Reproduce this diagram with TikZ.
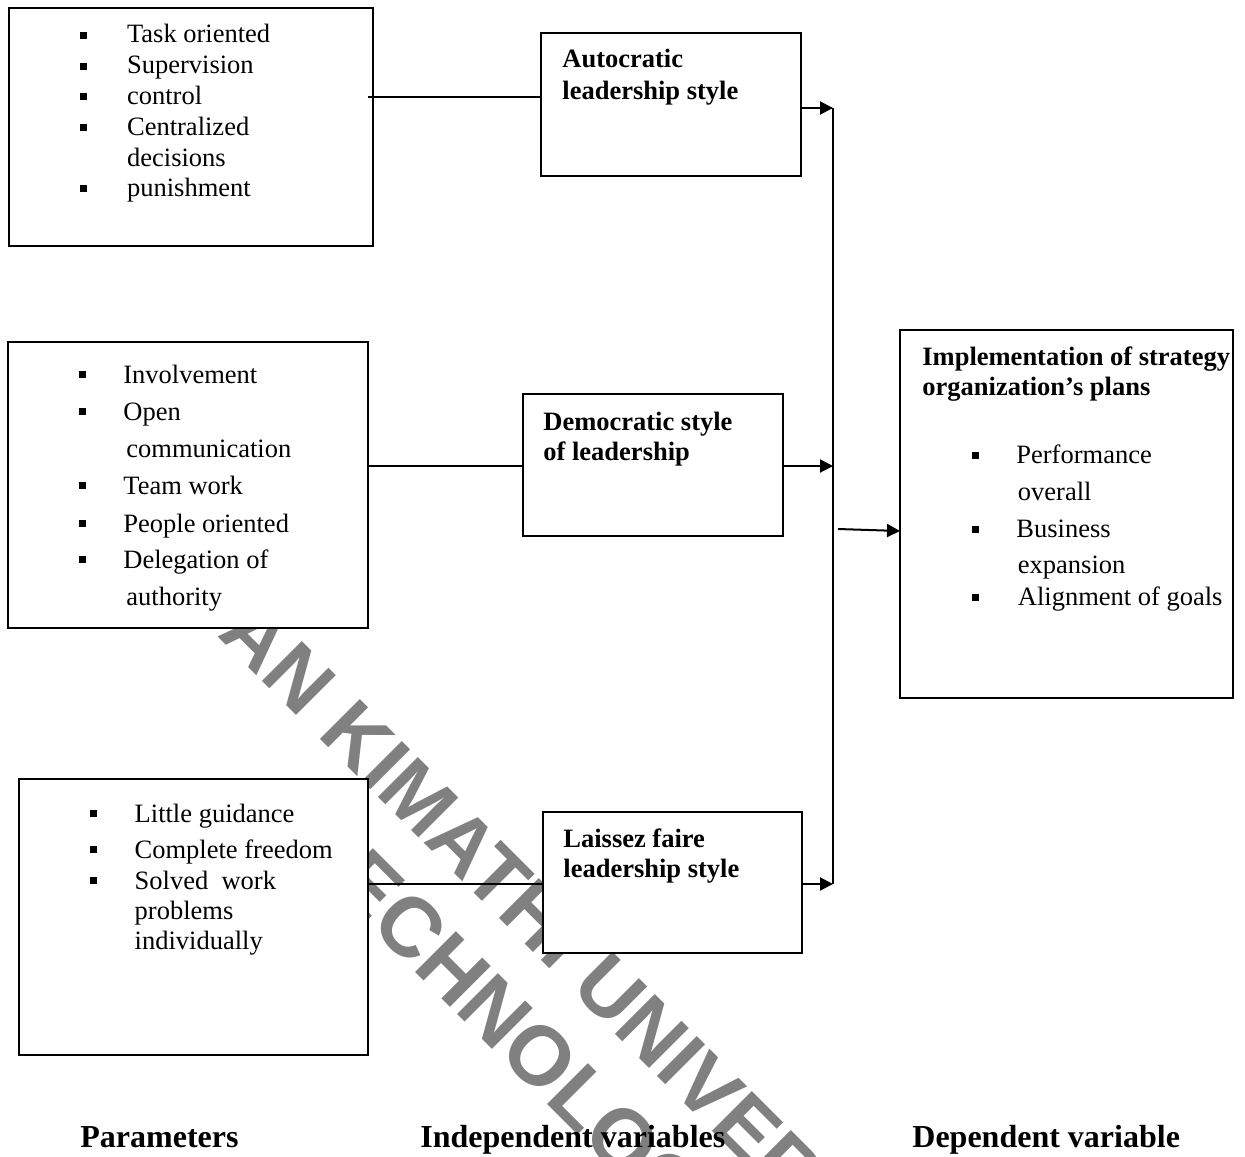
\documentclass[tikz,border=0pt]{standalone}
\usepackage{fontspec}
\setmainfont{Liberation Serif}
\newfontfamily\wmfont{Liberation Sans}
\usetikzlibrary{arrows.meta}
\begin{document}
\begin{tikzpicture}[x=0.5pt,y=-0.5pt,
  box/.style={draw=black,line width=1pt,fill=white,inner sep=0pt,outer sep=0pt},
  txt/.style={anchor=base west,inner sep=0pt,font=\fontsize{13.25pt}{15pt}\selectfont},
  btxt/.style={txt,font=\fontsize{13.25pt}{15pt}\selectfont\bfseries},
  ltxt/.style={txt,font=\fontsize{16pt}{18pt}\selectfont\bfseries},
  bul/.style={fill=black,inner sep=0pt,minimum size=3.5pt},
  con/.style={line width=1pt},
  arr/.style={line width=1pt,-{Triangle[length=6.5pt,width=6.5pt]}},
  wm/.style={anchor=base west,inner sep=0pt,rotate=-45,text=black!50,font=\wmfont\bfseries\fontsize{42pt}{42pt}\selectfont}]
\useasboundingbox (0,0) rectangle (1245,1156);
% watermark
\node[wm,font=\wmfont\bfseries\fontsize{41pt}{41pt}\selectfont] (wm1) at (94,513) {DEDAN KIMATHI UNIVERSITY OF};
\node[wm] (wm2) at (292,849) {TECHNOLOGY};
% boxes
\node[box,minimum width=182pt,minimum height=119pt] (p1) at (191,127) {};
\node[box,minimum width=130pt,minimum height=71.5pt] (a1) at (671,104.5) {};
\node[box,minimum width=180pt,minimum height=143pt] (p2) at (188,485) {};
\node[box,minimum width=130pt,minimum height=71pt] (d) at (653,465) {};
\node[box,minimum width=174.5pt,minimum height=138pt] (p3) at (193.5,917) {};
\node[box,minimum width=129.5pt,minimum height=70.5pt] (l) at (672.5,882.5) {};
\node[box,minimum width=166.5pt,minimum height=184pt] (dv) at (1066.5,514) {};
% junction points
\coordinate (vt) at (833,108);
\coordinate (vm) at (833,466);
\coordinate (vb) at (833,884);
\coordinate (dvs) at (838,529);
\coordinate (h1) at (368,97);
% connectors
\draw[con] (h1) -- (a1.west |- h1);
\draw[con] (p2.east |- vm) -- (d.west |- vm);
\draw[con] (p3.east |- vb) -- (l.west |- vb);
\draw[con] (vt) -- (vb);
\draw[arr] (a1.east |- vt) -- (vt);
\draw[arr] (d.east |- vm) -- (vm);
\draw[arr] (l.east |- vb) -- (vb);
\draw[arr] (dvs) -- (dv.west |- 0,531);
% P1 texts
\node[bul] (b11) at (83.5,35.5) {};
\node[bul] (b12) at (83.5,66.5) {};
\node[bul] (b13) at (83.5,97) {};
\node[bul] (b14) at (83.5,127.5) {};
\node[bul] (b15) at (83.5,188.5) {};
\node[txt] (t11) at (126.7,43) {Task oriented};
\node[txt] (t12) at (126.7,74) {Supervision};
\node[txt] (t13) at (126.7,104.5) {control};
\node[txt] (t14) at (126.7,135) {Centralized};
\node[txt] (t15) at (126.7,166) {decisions};
\node[txt] (t16) at (126.7,196) {punishment};
% Autocratic
\node[btxt] (ta1) at (562,68) {Autocratic};
\node[btxt] (ta2) at (562,99) {leadership style};
% P2 texts
\node[bul] (b21) at (82.5,374.5) {};
\node[bul] (b22) at (82.5,411.5) {};
\node[bul] (b23) at (82.5,485.5) {};
\node[bul] (b24) at (82.5,523.5) {};
\node[bul] (b25) at (82.5,559.5) {};
\node[txt] (t21) at (123,383) {Involvement};
\node[txt] (t22) at (123,420) {Open};
\node[txt] (t23) at (126,457) {communication};
\node[txt] (t24) at (123,494) {Team work};
\node[txt] (t25) at (123,532) {People oriented};
\node[txt] (t26) at (123,568) {Delegation of};
\node[txt] (t27) at (126,605) {authority};
% Democratic
\node[btxt] (td1) at (543,430) {Democratic style};
\node[btxt] (td2) at (543,460) {of leadership};
% P3 texts
\node[bul] (b31) at (93.5,813.5) {};
\node[bul] (b32) at (93.5,849.5) {};
\node[bul] (b33) at (93.5,880.5) {};
\node[txt] (t31) at (134.3,822) {Little guidance};
\node[txt] (t32) at (134.3,858) {Complete freedom};
\node[txt] (t33) at (134.3,889) {Solved\ \ work};
\node[txt] (t34) at (134.3,919) {problems};
\node[txt] (t35) at (134.3,949) {individually};
% Laissez
\node[btxt] (tl1) at (563,847) {Laissez faire};
\node[btxt] (tl2) at (563,877) {leadership style};
% DV
\node[btxt] (tv1) at (922,365) {Implementation of strategy};
\node[btxt] (tv2) at (922,395) {organization’s plans};
\node[bul] (b41) at (975.5,455) {};
\node[bul] (b42) at (975.5,529) {};
\node[bul] (b43) at (975.5,597) {};
\node[txt] (t41) at (1016,463) {Performance};
\node[txt] (t42) at (1017.5,500) {overall};
\node[txt] (t43) at (1016,537) {Business};
\node[txt] (t44) at (1017.5,573) {expansion};
\node[txt] (t45) at (1017.5,605) {Alignment of goals};
% bottom labels
\node[ltxt] (lab1) at (80,1147) {Parameters};
\node[ltxt] (lab2) at (420,1147) {Independent variables};
\node[ltxt] (lab3) at (912,1147) {Dependent variable};
\end{tikzpicture}
\end{document}
